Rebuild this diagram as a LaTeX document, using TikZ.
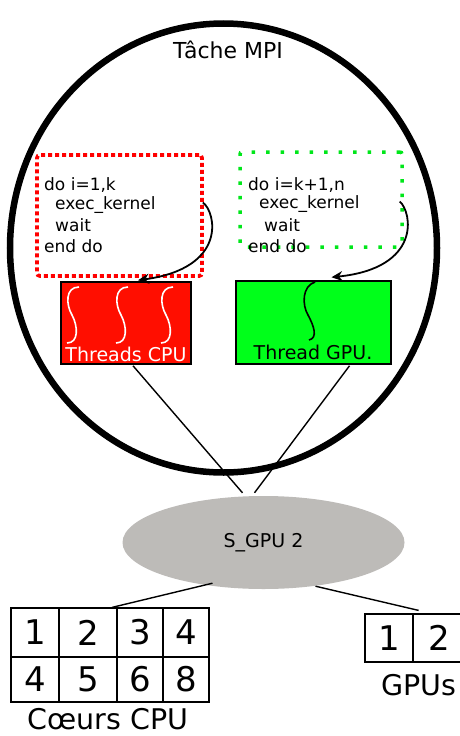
\documentclass[tikz,border=0pt]{standalone}
\usepackage{fontspec}
\setmainfont{DejaVu Sans}
\usetikzlibrary{shapes.geometric,arrows.meta,calc}
\definecolor{cpured}{HTML}{FF0E00}
\definecolor{dotred}{HTML}{FF0000}
\definecolor{gpugreen}{HTML}{00FF1A}
\definecolor{dotgreen}{HTML}{00E61A}
\definecolor{sgrey}{HTML}{BDBBB8}
\tikzset{
  codetxt/.style={anchor=west,inner sep=0pt,font=\fontsize{17}{20}\selectfont},
  cell/.style={draw,line width=1.2pt,inner sep=0pt,font=\fontsize{34}{36}\selectfont},
  link/.style={line width=1.4pt},
  curvearrow/.style={line width=1.8pt,-{Stealth[length=11pt,width=10pt]}},
  squig/.style={line width=1.6pt}
}
\begin{document}
\begin{tikzpicture}[x=1pt,y=-1pt]
\useasboundingbox (0,0) rectangle (459,736);
% big MPI ellipse
\node[ellipse,draw,line width=6.5pt,minimum width=427pt,minimum height=449pt,inner sep=0pt] (mpi) at (223.5,248) {};
\node[font=\fontsize{22}{26}\selectfont] (title) at (228,50) {Tâche MPI};
% loop boxes
\node[draw=dotred,line width=3.8pt,dash pattern=on 4pt off 3pt,rounded corners=3pt,minimum width=165pt,minimum height=121pt,inner sep=0pt] (redloop) at (119.5,215.5) {};
\node[draw=dotgreen,line width=3.5pt,dash pattern=on 3.5pt off 11pt,rounded corners=2pt,minimum width=162pt,minimum height=95pt,inner sep=0pt] (greenloop) at (321,199.5) {};
\node[codetxt] (r1) at (44,185) {do i=1,k};
\node[codetxt] (r2) at (55,205) {exec\_kernel};
\node[codetxt] (r3) at (55,225) {wait};
\node[codetxt] (r4) at (44,246) {end do};
\node[codetxt] (g1) at (248,185) {do i=k+1,n};
\node[codetxt] (g2) at (259,204) {exec\_kernel};
\node[codetxt] (g3) at (264,225) {wait};
\node[codetxt] (g4) at (248,246) {end do};
% thread boxes
\node[draw,fill=cpured,line width=1.5pt,minimum width=130pt,minimum height=82pt,inner sep=0pt] (cpu) at (126,323) {};
\node[draw,fill=gpugreen,line width=1.5pt,minimum width=155pt,minimum height=83pt,inner sep=0pt] (gpu) at (313.5,322.5) {};
\node[text=white,inner sep=0pt,font=\fontsize{19}{22}\selectfont] (cputxt) at (126,354) {Threads CPU};
\node[inner sep=0pt,font=\fontsize{19}{22}\selectfont] (gputxt) at (313,352) {Thread GPU.};
\foreach \x in {72,121,166}{
  \draw[squig,white] (\x+7,287) .. controls (\x-7,287) and (\x-6,305) .. (\x,315) .. controls (\x+6,326) and (\x+7,343) .. (\x-5,343);
}
\draw[squig,black] (315,282) .. controls (302,286) and (302,305) .. (308,315) .. controls (314,326) and (318,338) .. (309,340);
% curved arrows
\draw[curvearrow] ($(redloop.east)+(-1,-13)$) .. controls (216,212) and (228,268) .. ($(cpu.north)+(12,-1)$);
\draw[curvearrow] ($(greenloop.east)+(-4,2)$) .. controls (412,212) and (422,268) .. ($(gpu.north)+(18,-3)$);
% S_GPU
\node[ellipse,fill=sgrey,minimum width=282pt,minimum height=93pt,inner sep=0pt,font=\fontsize{19}{22}\selectfont] (sgpu) at (263.5,542.5) {S\_GPU 2};
\draw[link] ($(cpu.south)+(7,1)$) -- ($(sgpu.north)+(-21,-3)$);
\draw[link] ($(gpu.south)+(36,1)$) -- ($(sgpu.north)+(-9,-3)$);
% CPU cores grid
\node[cell,minimum width=48pt,minimum height=49pt] (c1) at (35,632.5) {1};
\node[cell,minimum width=58pt,minimum height=49pt] (c2) at (88,632.5) {2};
\node[cell,minimum width=46pt,minimum height=49pt] (c3) at (140,632.5) {3};
\node[cell,minimum width=46pt,minimum height=49pt] (c4) at (186,632.5) {4};
\node[cell,minimum width=48pt,minimum height=45pt] (c5) at (35,679.5) {4};
\node[cell,minimum width=58pt,minimum height=45pt] (c6) at (88,679.5) {5};
\node[cell,minimum width=46pt,minimum height=45pt] (c7) at (140,679.5) {6};
\node[cell,minimum width=46pt,minimum height=45pt] (c8) at (186,679.5) {8};
\node[font=\fontsize{28.5}{31}\selectfont] (cores) at (108,719) {Cœurs CPU};
% GPU grid
\node[cell,minimum width=48pt,minimum height=48pt] (gp1) at (389,638) {1};
\node[cell,minimum width=52pt,minimum height=48pt] (gp2) at (439,638) {2};
\node[font=\fontsize{28.5}{31}\selectfont] (gpus) at (419,685) {GPUs};
% links to resources
\draw[link] ($(sgpu.south)+(-51,-6)$) -- ($(c2.north)+(24,0)$);
\draw[link] ($(sgpu.south)+(52,-3)$) -- ($(gp1.north east)+(5,-3)$);
\end{tikzpicture}
\end{document}
